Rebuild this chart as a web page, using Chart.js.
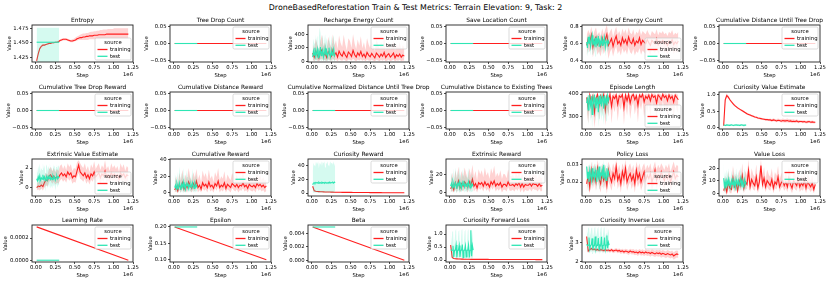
<!DOCTYPE html>
<html><head><meta charset="utf-8">
<script src="https://cdn.jsdelivr.net/npm/chart.js@4.4.0/dist/chart.umd.min.js"></script>
<style>
html,body{margin:0;padding:0;background:#fff;}
#fig{position:relative;width:831px;height:283px;overflow:hidden;background:#fff;}
#suptitle{position:absolute;left:0;width:831px;top:3px;text-align:center;font-family:"DejaVu Sans";font-size:7.9px;line-height:9px;color:#000;white-space:nowrap;}
canvas{position:absolute;}
</style></head><body>
<div id="fig"><div id="suptitle">DroneBasedReforestation Train &amp; Test Metrics: Terrain Elevation: 9, Task: 2</div></div>
<script>
// ---------------- DATA ----------------
const trainSteps = [10000,30000,50000,70000,90000,110000,130000,150000,170000,190000,
 210000,230000,250000,270000,290000,310000,330000,350000,370000,390000,
 410000,430000,450000,470000,490000,510000,530000,550000,570000,590000,
 610000,630000,650000,670000,690000,710000,730000,750000,770000,790000,
 810000,830000,850000,870000,890000,910000,930000,950000,970000,990000,
 1010000,1030000,1050000,1070000,1090000,1110000,1130000,1150000,1170000,1190000];
const testSteps = [10000,20000,30000,40000,50000,60000,70000,80000,90000,100000,
 110000,120000,130000,140000,150000,160000,170000,180000,190000,200000,
 210000,220000,230000,240000,250000,260000,270000,280000,290000,300000];
const trainEnds = [10000, 1190000];
const testEnds = [10000, 300000];

const stepTicks = [0, 250000, 500000, 750000, 1000000, 1250000];
const stepTickLabels = ['0.00','0.25','0.50','0.75','1.00','1.25'];

const zeroTrain = [0, 0];
const zeroTest = [0, 0];
const zeroTicks = [-0.05, 0, 0.05];
const zeroTickLabels = ['\u22120.05','0.00','0.05'];

// Entropy
const entropyTicks = [1.425, 1.45, 1.475];
const entropyTickLabels = ['1.425','1.450','1.475'];
const entropyTrain = [1.419,1.431,1.440,1.444,1.446,1.446,1.447,1.448,1.449,1.449,
 1.450,1.450,1.451,1.451,1.452,1.454,1.455,1.456,1.456,1.456,
 1.455,1.454,1.453,1.453,1.454,1.455,1.457,1.458,1.459,1.459,
 1.460,1.460,1.461,1.461,1.462,1.462,1.462,1.463,1.463,1.463,
 1.464,1.464,1.464,1.464,1.464,1.465,1.465,1.465,1.465,1.465,
 1.465,1.465,1.465,1.465,1.465,1.465,1.465,1.465,1.465,1.465];
const entropyTrainLo = [1.418,1.429,1.438,1.442,1.444,1.445,1.446,1.447,1.448,1.448,
 1.449,1.449,1.450,1.450,1.451,1.452,1.453,1.454,1.454,1.454,
 1.453,1.452,1.451,1.451,1.452,1.453,1.454,1.455,1.455,1.455,
 1.455,1.455,1.455,1.455,1.456,1.456,1.456,1.456,1.456,1.456,
 1.456,1.456,1.457,1.457,1.457,1.457,1.457,1.457,1.457,1.457,
 1.457,1.457,1.457,1.457,1.457,1.457,1.457,1.457,1.457,1.457];
const entropyTrainHi = [1.420,1.433,1.442,1.446,1.448,1.447,1.448,1.449,1.450,1.450,
 1.451,1.451,1.452,1.452,1.453,1.456,1.457,1.458,1.458,1.458,
 1.457,1.456,1.455,1.456,1.457,1.459,1.461,1.462,1.464,1.465,
 1.466,1.466,1.467,1.467,1.468,1.469,1.469,1.470,1.470,1.471,
 1.471,1.472,1.472,1.473,1.473,1.473,1.474,1.474,1.474,1.474,
 1.475,1.475,1.475,1.475,1.475,1.475,1.475,1.475,1.475,1.475];
const entropyTest = [1.451, 1.451];
const entropyTestLo = [1.41, 1.41];
const entropyTestHi = [1.476, 1.476];

// Recharge Energy Count
const rechargeTicks = [0, 200, 400];
const rechargeTickLabels = ['0','200','400'];
const rechargeTrain = [120,60,150,90,45,130,170,80,115,55, 140,95,70,165,85,125,60,150,100,75,
 140,90,55,135,110,70,160,95,60,125, 85,145,70,105,55,130,90,65,115,80,
 50,120,95,60,105,75,130,55,90,110, 60,85,120,50,95,70,105,60,90,75];
const rechargeTrainHi = [260,180,330,250,150,300,390,220,280,170, 360,260,200,400,230,310,180,380,270,210,
 390,250,160,340,300,200,400,260,180,320, 230,370,190,280,160,340,250,190,300,220,
 150,320,260,180,280,210,350,160,250,290, 170,230,310,150,260,200,280,170,240,200];
const rechargeTrainLo = [20,0,30,10,0,25,40,5,20,0, 30,15,5,40,10,25,0,30,15,5,
 30,10,0,25,20,5,35,15,0,25, 10,30,5,20,0,25,10,5,20,10,
 0,20,15,0,20,5,25,0,10,20, 0,10,25,0,15,5,20,0,10,5];
const rechargeTest = [60,150,90,200,70,120,180,50,140,100, 210,80,130,170,60,110,190,90,150,70,
 120,200,100,60,160,90,130,180,80,110];
const rechargeTestHi = [200,330,260,400,250,320,380,200,350,500, 420,250,330,390,200,300,400,260,350,220,
 310,400,280,200,380,260,330,390,240,300];
const rechargeTestLo = [0,20,0,40,0,10,30,0,20,5, 40,0,15,30,0,10,35,0,20,0,
 10,40,5,0,30,0,15,30,0,10];

// Out of Energy Count
const energyTicks = [0.4, 0.6, 0.8];
const energyTickLabels = ['0.4','0.6','0.8'];
const energyTrain = [0.58,0.66,0.61,0.70,0.56,0.64,0.68,0.59,0.63,0.57, 0.67,0.60,0.65,0.71,0.58,0.62,0.66,0.57,0.64,0.69,
 0.60,0.63,0.58,0.67,0.61,0.65,0.59,0.68,0.62,0.60, 0.66,0.58,0.63,0.61,0.67,0.59,0.64,0.62,0.60,0.65,
 0.61,0.58,0.64,0.62,0.60,0.66,0.59,0.63,0.61,0.64, 0.60,0.62,0.58,0.63,0.61,0.65,0.59,0.62,0.60,0.63];
const energyTrainHi = [0.70,0.76,0.72,0.80,0.68,0.75,0.79,0.70,0.74,0.69, 0.78,0.71,0.77,0.82,0.70,0.74,0.78,0.68,0.75,0.80,
 0.71,0.75,0.69,0.78,0.72,0.77,0.70,0.79,0.73,0.71, 0.77,0.69,0.74,0.72,0.78,0.70,0.75,0.73,0.71,0.76,
 0.72,0.69,0.75,0.73,0.71,0.77,0.70,0.74,0.72,0.75, 0.71,0.73,0.69,0.74,0.72,0.76,0.70,0.73,0.71,0.74];
const energyTrainLo = [0.46,0.55,0.50,0.58,0.44,0.52,0.56,0.47,0.51,0.45, 0.55,0.48,0.53,0.58,0.42,0.50,0.54,0.45,0.52,0.57,
 0.48,0.52,0.46,0.55,0.49,0.53,0.47,0.56,0.50,0.48, 0.54,0.46,0.51,0.49,0.55,0.47,0.52,0.50,0.48,0.53,
 0.50,0.47,0.53,0.51,0.49,0.55,0.48,0.52,0.50,0.53, 0.49,0.51,0.47,0.52,0.50,0.54,0.48,0.51,0.49,0.52];
const energyTest = [0.62,0.55,0.68,0.60,0.66,0.57,0.64,0.70,0.58,0.63, 0.59,0.67,0.56,0.65,0.61,0.69,0.57,0.63,0.60,0.66,
 0.58,0.64,0.61,0.67,0.56,0.62,0.65,0.59,0.63,0.60];
const energyTestHi = [0.70,0.64,0.73,0.68,0.72,0.66,0.71,0.73,0.67,0.70, 0.68,0.73,0.65,0.72,0.69,0.73,0.66,0.70,0.68,0.72,
 0.67,0.71,0.69,0.73,0.65,0.70,0.72,0.67,0.70,0.68];
const energyTestLo = [0.52,0.45,0.60,0.50,0.57,0.46,0.55,0.62,0.47,0.54, 0.48,0.58,0.45,0.56,0.51,0.60,0.46,0.54,0.50,0.57,
 0.47,0.55,0.52,0.58,0.45,0.53,0.56,0.49,0.54,0.50];

// Episode Length
const episodeTicks = [300, 400];
const episodeTickLabels = ['300','400'];
const episodeTrain = [385,340,395,360,390,320,380,398,350,392, 375,398,330,388,365,399,345,390,380,396,
 355,392,385,398,340,395,370,399,360,390, 398,375,392,350,396,385,399,365,390,380,
 395,370,398,385,392,360,396,388,375,399, 385,392,370,396,380,390,365,395,385,375];
const episodeTrainHi = [399,380,403,390,402,370,398,404,385,403, 395,404,375,401,392,404,385,402,398,404,
 390,403,400,404,380,403,395,404,392,402, 404,396,403,385,404,400,404,395,402,398,
 403,395,404,400,403,392,404,401,396,404, 400,403,395,404,398,402,392,403,400,396];
const episodeTrainLo = [330,270,360,290,340,250,320,370,280,350, 310,365,260,340,300,370,270,345,320,360,
 280,350,330,370,265,355,305,372,290,345, 365,310,350,275,360,330,372,295,345,320,
 355,300,368,330,350,285,362,340,310,370, 330,350,300,362,320,345,290,358,330,315];
const episodeTest = [360,385,330,395,370,350,390,310,380,365, 398,340,385,360,375,320,392,355,380,345,
 390,370,335,395,360,380,350,392,370,385];
const episodeTestHi = [380,400,360,404,390,375,402,345,398,385, 404,370,400,385,395,355,404,380,398,372,
 403,392,365,404,385,398,378,404,392,400];
const episodeTestLo = [300,330,260,350,310,280,340,250,320,300, 350,270,330,300,315,255,345,290,325,280,
 335,305,265,345,295,325,280,340,310,330];

// Curiosity Value Estimate
const curValTicks = [0, 0.5, 1.0];
const curValTickLabels = ['0.0','0.5','1.0'];
const curValTrain = [0.05,0.85,0.98,0.93,0.85,0.79,0.73,0.68,0.64,0.60, 0.57,0.54,0.51,0.48,0.45,0.42,0.40,0.38,0.36,0.34,
 0.32,0.31,0.29,0.28,0.27,0.26,0.25,0.24,0.24,0.23, 0.23,0.21,0.23,0.22,0.20,0.22,0.21,0.19,0.21,0.20,
 0.20,0.21,0.19,0.20,0.18,0.19,0.18,0.20,0.17,0.18, 0.18,0.17,0.18,0.16,0.17,0.18,0.16,0.17,0.16,0.16];
const curValTrainHi = [0.08,0.92,1.04,0.98,0.89,0.83,0.77,0.71,0.67,0.63, 0.60,0.57,0.54,0.51,0.48,0.45,0.43,0.41,0.39,0.37,
 0.35,0.34,0.32,0.31,0.30,0.29,0.28,0.27,0.27,0.26, 0.27,0.25,0.28,0.26,0.25,0.27,0.26,0.25,0.27,0.26,
 0.26,0.27,0.25,0.26,0.24,0.25,0.23,0.25,0.22,0.23, 0.22,0.21,0.22,0.20,0.21,0.22,0.20,0.21,0.20,0.19];
const curValTrainLo = [0.03,0.78,0.93,0.88,0.81,0.75,0.70,0.65,0.61,0.57, 0.54,0.51,0.48,0.45,0.42,0.39,0.37,0.35,0.33,0.31,
 0.29,0.28,0.26,0.25,0.24,0.23,0.22,0.21,0.21,0.20, 0.19,0.18,0.19,0.18,0.16,0.18,0.17,0.15,0.16,0.15,
 0.15,0.16,0.14,0.15,0.13,0.14,0.13,0.15,0.13,0.14, 0.14,0.13,0.14,0.12,0.13,0.14,0.12,0.13,0.12,0.12];
const curValTest = [0.07,0.07,0.06,0.07,0.08,0.07,0.07,0.06,0.07,0.07, 0.08,0.07,0.07,0.06,0.07,0.07,0.08,0.07,0.07,0.07,
 0.06,0.07,0.07,0.08,0.07,0.07,0.06,0.07,0.07,0.07];
const curValTestHi = [0.10,0.10,0.09,0.10,0.11,0.10,0.10,0.09,0.10,0.10, 0.11,0.10,0.10,0.09,0.10,0.10,0.11,0.10,0.10,0.10,
 0.09,0.10,0.10,0.11,0.10,0.10,0.09,0.10,0.10,0.10];
const curValTestLo = [0.04,0.04,0.03,0.04,0.05,0.04,0.04,0.03,0.04,0.04, 0.05,0.04,0.04,0.03,0.04,0.04,0.05,0.04,0.04,0.04,
 0.03,0.04,0.04,0.05,0.04,0.04,0.03,0.04,0.04,0.04];

// Extrinsic Value Estimate
const extValTicks = [0, 2];
const extValTickLabels = ['0','2'];
const extValTrain = [0.0,0.15,0.1,0.25,0.1,0.5,0.8,0.7,1.2,1.3, 1.0,1.2,0.95,1.1,1.0,1.3,1.5,1.2,1.4,1.1,
 1.6,1.3,1.5,1.0,1.2,1.1,1.7,2.3,1.6,1.4, 1.2,1.5,1.0,1.3,0.9,1.4,1.2,1.6,1.1,1.3,
 1.5,1.0,1.4,1.2,1.7,1.1,1.3,1.0,1.5,1.2, 1.4,1.1,1.3,0.9,1.5,1.2,1.4,1.0,1.3,1.2];
const extValTrainHi = [0.4,0.6,0.5,0.8,0.6,1.2,1.5,1.3,1.9,2.1, 1.7,2.0,1.6,1.9,1.7,2.2,2.4,1.9,2.3,1.8,
 2.5,2.1,2.4,1.7,2.0,1.9,2.6,2.8,2.5,2.2, 2.0,2.5,1.8,2.2,1.6,2.4,2.0,2.7,1.9,2.2,
 2.5,1.8,2.3,2.0,2.8,1.9,2.2,1.7,2.5,2.0, 2.3,1.9,2.2,1.6,2.5,2.0,2.4,1.7,2.2,2.0];
const extValTrainLo = [-0.3,-0.2,-0.3,-0.1,-0.3,0.0,0.2,0.1,0.6,0.7, 0.4,0.6,0.3,0.5,0.4,0.7,0.9,0.6,0.8,0.5,
 1.0,0.7,0.9,0.4,0.6,0.5,1.1,1.5,0.9,0.8, 0.6,0.9,0.4,0.7,0.3,0.8,0.6,1.0,0.5,0.7,
 0.9,0.4,0.8,0.6,1.1,0.5,0.7,0.4,0.9,0.6, 0.8,0.5,0.7,0.3,0.9,0.6,0.8,0.4,0.7,0.6];
const extValTest = [0.9,0.7,1.1,0.8,1.2,0.75,1.0,0.85,1.3,0.9, 1.1,0.7,1.0,1.2,0.8,1.1,0.9,1.3,0.85,1.0,
 0.8,1.2,0.95,1.1,0.75,1.0,1.2,0.9,1.1,1.0];
const extValTestHi = [1.8,1.5,2.2,1.7,2.5,1.6,2.0,1.8,2.5,1.9, 2.3,1.5,2.1,2.4,1.7,2.2,1.9,2.5,1.8,2.1,
 1.7,2.4,2.0,2.3,1.6,2.1,2.4,1.9,2.3,2.1];
const extValTestLo = [0.1,-0.2,0.3,-0.1,0.4,-0.3,0.2,0.0,0.5,0.1, 0.3,-0.4,0.2,0.4,-0.1,0.3,0.0,0.5,-0.1,0.2,
 -0.1,0.4,0.1,0.3,-0.3,0.2,0.4,0.0,0.3,0.2];

// Cumulative Reward
const cumRewTicks = [0, 20, 40];
const cumRewTickLabels = ['0','20','40'];
const cumRewTrain = [3,7,2,10,5,12,4,9,6,13, 8,5,11,7,14,6,9,4,12,8,
 10,6,13,7,9,5,11,8,14,6, 9,7,12,5,10,8,6,11,9,7,
 10,6,9,8,12,7,9,5,10,8, 7,9,6,11,8,10,7,9,6,8];
const cumRewTrainHi = [12,20,9,24,15,28,13,22,16,30, 19,14,25,18,29,16,22,12,27,19,
 24,15,28,17,21,13,25,19,30,15, 20,17,26,13,22,18,15,24,20,16,
 22,14,20,18,25,16,20,12,22,18, 16,20,14,23,18,21,15,19,14,17];
const cumRewTrainLo = [0,1,0,3,0,5,0,2,0,6, 2,0,4,1,7,0,3,0,5,2,
 4,0,6,1,3,0,5,2,7,0, 3,1,5,0,4,2,0,5,3,1,
 4,0,3,2,5,1,3,0,4,2, 1,3,0,5,2,4,1,3,0,2];
const cumRewTest = [6,9,4,11,7,5,12,8,3,10, 7,13,6,9,4,11,8,12,5,9,
 7,10,6,12,8,5,11,7,9,6];
const cumRewTestHi = [24,20,15,26,18,14,32,20,12,25, 18,30,16,22,13,27,19,28,14,21,
 17,24,15,29,19,13,26,17,22,15];
const cumRewTestLo = [0,2,0,3,0,0,4,1,0,2, 0,5,0,2,0,3,1,4,0,2,
 0,3,0,4,1,0,3,0,2,0];

// Curiosity Reward
const curRewTicks = [0, 20, 40];
const curRewTickLabels = ['0','20','40'];
const curRewTrain = [10,3.5,2.8,2.4,2.2,2.0,1.9,1.8,1.7,1.6, 1.5,1.5,1.4,1.4,1.3,1.3,1.2,1.2,1.2,1.1,
 1.1,1.1,1.0,1.0,1.0,1.0,0.9,0.9,0.9,0.9, 0.9,0.8,0.8,0.8,0.8,0.8,0.8,0.7,0.7,0.7,
 0.7,0.7,0.7,0.7,0.7,0.6,0.6,0.6,0.6,0.6, 0.6,0.6,0.6,0.6,0.5,0.5,0.5,0.5,0.5,0.5];
const curRewTrainHi = [12,4.2,3.3,2.8,2.6,2.3,2.2,2.1,2.0,1.9, 1.8,1.8,1.7,1.7,1.6,1.6,1.5,1.5,1.5,1.4,
 1.4,1.4,1.3,1.3,1.3,1.3,1.2,1.2,1.2,1.2, 1.2,1.1,1.1,1.1,1.1,1.1,1.1,1.0,1.0,1.0,
 1.0,1.0,1.0,1.0,1.0,0.9,0.9,0.9,0.9,0.9, 0.9,0.9,0.9,0.9,0.8,0.8,0.8,0.8,0.8,0.8];
const curRewTrainLo = [8,2.8,2.3,2.0,1.8,1.7,1.6,1.5,1.4,1.3, 1.2,1.2,1.1,1.1,1.0,1.0,0.9,0.9,0.9,0.8,
 0.8,0.8,0.7,0.7,0.7,0.7,0.6,0.6,0.6,0.6, 0.6,0.5,0.5,0.5,0.5,0.5,0.5,0.4,0.4,0.4,
 0.4,0.4,0.4,0.4,0.4,0.3,0.3,0.3,0.3,0.3, 0.3,0.3,0.3,0.3,0.2,0.2,0.2,0.2,0.2,0.2];
const curRewTest = [12,14.5,15,14,15.5,14.8,15.2,14.3,15.8,14.6, 15.1,14.4,15.6,14.9,15.3,14.2,15.7,14.8,15.0,14.5,
 15.4,14.7,15.9,14.6,15.2,14.9,15.5,14.4,16.0,15.1];
const curRewTestHi = [30,44,40,46,38,45,42,46,36,44, 41,46,39,45,43,46,37,44,42,46,
 40,45,38,46,43,44,41,46,39,45];
const curRewTestLo = [0,1,0,2,0,1,0,2,0,1, 0,2,0,1,0,2,0,1,0,2,
 0,1,0,2,0,1,0,2,0,1];

// Extrinsic Reward
const extRewTicks = [0, 20];
const extRewTickLabels = ['0','20'];
const extRewTrain = [4,8,3,11,6,13,5,10,7,12, 9,6,12,8,15,7,10,5,11,9,
 11,7,12,8,10,6,12,9,13,7, 10,8,11,6,9,9,7,12,8,8,
 9,7,10,8,11,6,10,6,9,8, 8,10,7,10,9,9,7,10,7,8];
const extRewTrainHi = [13,22,10,25,16,29,14,24,17,28, 21,15,27,19,31,17,24,13,26,20,
 25,17,28,19,23,15,27,21,30,17, 22,18,25,15,21,20,16,26,19,18,
 20,16,22,18,24,15,22,14,20,18, 17,21,16,21,19,20,15,21,16,17];
const extRewTrainLo = [0,2,0,4,0,6,0,3,1,5, 3,0,5,2,8,1,4,0,5,3,
 5,1,6,2,4,0,6,3,7,1, 4,2,5,0,3,3,1,6,2,2,
 3,1,4,2,5,0,4,0,3,2, 2,4,1,4,3,3,1,4,1,2];
const extRewTest = [7,10,5,12,8,6,11,9,4,10, 8,12,6,9,5,11,8,13,6,9,
 7,11,6,12,8,5,10,7,9,7];
const extRewTestHi = [22,21,16,27,19,15,28,21,13,24, 19,29,16,22,14,26,19,29,15,21,
 17,25,15,28,19,13,24,17,21,16];
const extRewTestLo = [0,2,0,4,1,0,3,1,0,2, 1,4,0,2,0,3,1,5,0,2,
 0,3,0,4,1,0,2,0,2,0];

// Policy Loss
const polTicks = [0.02, 0.03];
const polTickLabels = ['0.02','0.03'];
const polTrain = [0.019,0.024,0.017,0.027,0.021,0.025,0.020,0.028,0.022,0.019, 0.026,0.021,0.024,0.018,0.027,0.023,0.020,0.025,0.022,0.029,
 0.021,0.024,0.019,0.026,0.022,0.028,0.020,0.023,0.025,0.021, 0.024,0.019,0.027,0.022,0.025,0.020,0.023,0.026,0.021,0.024,
 0.022,0.025,0.020,0.023,0.027,0.021,0.024,0.022,0.026,0.023, 0.021,0.024,0.022,0.025,0.020,0.023,0.026,0.022,0.024,0.023];
const polTrainHi = [0.025,0.030,0.023,0.032,0.027,0.031,0.026,0.033,0.028,0.025, 0.031,0.027,0.030,0.024,0.032,0.029,0.026,0.031,0.028,0.033,
 0.027,0.030,0.025,0.031,0.028,0.033,0.026,0.029,0.031,0.027, 0.030,0.025,0.032,0.028,0.031,0.026,0.029,0.031,0.027,0.030,
 0.028,0.031,0.026,0.029,0.032,0.027,0.030,0.028,0.031,0.029, 0.027,0.030,0.028,0.031,0.026,0.029,0.032,0.028,0.030,0.029];
const polTrainLo = [0.014,0.019,0.013,0.022,0.016,0.020,0.015,0.022,0.017,0.014, 0.021,0.016,0.019,0.013,0.021,0.018,0.015,0.020,0.017,0.023,
 0.016,0.019,0.014,0.021,0.017,0.022,0.015,0.018,0.020,0.016, 0.019,0.014,0.021,0.017,0.020,0.015,0.018,0.021,0.016,0.019,
 0.017,0.020,0.015,0.018,0.021,0.016,0.019,0.017,0.021,0.018, 0.016,0.019,0.017,0.020,0.015,0.018,0.021,0.017,0.019,0.018];
const polTest = [0.029,0.022,0.026,0.020,0.027,0.024,0.021,0.028,0.023,0.025, 0.022,0.027,0.024,0.020,0.026,0.023,0.029,0.021,0.025,0.024,
 0.027,0.022,0.030,0.023,0.025,0.021,0.028,0.024,0.026,0.023];
const polTestHi = [0.032,0.027,0.030,0.025,0.031,0.029,0.026,0.032,0.028,0.030, 0.027,0.031,0.029,0.025,0.030,0.028,0.032,0.026,0.030,0.029,
 0.031,0.027,0.033,0.028,0.030,0.026,0.032,0.029,0.030,0.028];
const polTestLo = [0.024,0.017,0.021,0.015,0.022,0.019,0.016,0.023,0.018,0.020, 0.017,0.022,0.019,0.015,0.021,0.018,0.024,0.016,0.020,0.019,
 0.022,0.017,0.025,0.018,0.020,0.016,0.023,0.019,0.021,0.018];

// Value Loss
const vlossTicks = [0, 10, 20];
const vlossTickLabels = ['0','10','20'];
const vlossTrain = [2,6,1,9,4,3,12,5,8,2, 10,6,14,4,9,7,18,5,11,8,
 6,13,4,9,22,7,12,5,10,8, 6,11,4,9,7,13,5,8,10,6,
 9,5,12,7,4,10,8,6,11,5, 8,6,10,4,9,7,5,8,3,7];
const vlossTrainHi = [8,14,6,18,10,9,22,12,16,8, 19,13,24,10,18,14,27,11,20,15,
 13,23,10,17,27,14,21,11,19,15, 13,20,9,17,14,22,11,15,18,12,
 17,11,21,14,9,18,15,12,19,10, 15,12,18,9,16,13,10,15,7,13];
const vlossTrainLo = [0,2,0,4,0,0,6,1,3,0, 5,2,8,0,4,3,11,1,6,3,
 2,7,0,4,14,3,6,1,5,3, 2,6,0,4,3,7,1,4,5,2,
 4,1,6,3,0,5,3,2,6,1, 3,2,5,0,4,3,1,3,0,3];
const vlossTest = [12,5,9,4,10,7,11,6,8,5, 10,7,12,6,9,5,11,8,7,10,
 6,9,12,7,10,5,8,11,7,9];
const vlossTestHi = [24,12,17,10,19,14,20,13,16,11, 18,14,21,13,17,11,20,15,14,18,
 13,17,21,14,18,11,16,20,14,17];
const vlossTestLo = [3,1,3,0,4,2,4,1,2,1, 4,2,5,1,3,1,4,2,2,4,
 1,3,5,2,4,1,2,4,2,3];

// Learning Rate / Epsilon / Beta
const lrTicks = [0, 0.0002];
const lrTickLabels = ['0.0000','0.0002'];
const lrTrain = [0.0003, 0.0];
const lrTest = [0.0, 0.0];
const epsTicks = [0.10, 0.15, 0.20];
const epsTickLabels = ['0.10','0.15','0.20'];
const epsTrain = [0.2, 0.1];
const epsTest = [0.2, 0.2];
const betaTicks = [0, 0.002, 0.004];
const betaTickLabels = ['0.000','0.002','0.004'];
const betaTrain = [0.005, 0.0];
const betaTest = [0.005, 0.005];

// Curiosity Forward Loss
const fwdTicks = [0, 0.5, 1.0];
const fwdTickLabels = ['0.0','0.5','1.0'];
const fwdTrain = [0.58,0.10,0.06,0.05,0.045,0.04,0.04,0.035,0.035,0.03, 0.03,0.03,0.03,0.028,0.028,0.028,0.027,0.027,0.026,0.026,
 0.026,0.025,0.025,0.025,0.025,0.024,0.024,0.024,0.024,0.023, 0.023,0.023,0.023,0.022,0.022,0.022,0.022,0.022,0.021,0.021,
 0.021,0.021,0.021,0.020,0.020,0.020,0.020,0.020,0.020,0.019, 0.019,0.019,0.019,0.019,0.019,0.018,0.018,0.018,0.018,0.018];
const fwdTrainHi = [0.68,0.14,0.08,0.07,0.06,0.055,0.055,0.05,0.05,0.045, 0.045,0.045,0.045,0.042,0.042,0.042,0.04,0.04,0.04,0.04,
 0.04,0.038,0.038,0.038,0.038,0.037,0.037,0.037,0.037,0.036, 0.036,0.036,0.036,0.035,0.035,0.035,0.035,0.035,0.034,0.034,
 0.034,0.034,0.034,0.033,0.033,0.033,0.033,0.033,0.033,0.032, 0.032,0.032,0.032,0.032,0.032,0.031,0.031,0.031,0.031,0.031];
const fwdTrainLo = [0.48,0.07,0.045,0.035,0.03,0.028,0.028,0.024,0.024,0.02, 0.02,0.02,0.02,0.018,0.018,0.018,0.017,0.017,0.016,0.016,
 0.016,0.015,0.015,0.015,0.015,0.014,0.014,0.014,0.014,0.013, 0.013,0.013,0.013,0.012,0.012,0.012,0.012,0.012,0.011,0.011,
 0.011,0.011,0.011,0.010,0.010,0.010,0.010,0.010,0.010,0.009, 0.009,0.009,0.009,0.009,0.009,0.008,0.008,0.008,0.008,0.008];
const fwdTest = [0.40,0.38,0.38,0.55,0.12,0.38,0.38,0.58,0.10,0.38, 0.38,0.56,0.12,0.38,0.38,0.60,0.10,0.38,0.38,0.55,
 0.12,0.38,0.38,0.58,0.10,0.38,1.15,0.15,0.55,0.38];
const fwdTestHi = [1.15,0.60,1.10,1.18,0.40,0.65,1.12,1.20,0.35,0.62, 1.10,1.15,0.40,0.60,1.15,1.20,0.35,0.65,1.10,1.18,
 0.40,0.62,1.12,1.20,0.35,0.60,1.22,0.50,1.15,0.65];
const fwdTestLo = [0.05,0.15,0.10,0.05,0.02,0.15,0.10,0.05,0.02,0.15, 0.10,0.05,0.02,0.15,0.10,0.05,0.02,0.15,0.10,0.05,
 0.02,0.15,0.10,0.05,0.02,0.15,0.10,0.02,0.05,0.15];

// Curiosity Inverse Loss
const invTicks = [2, 3];
const invTickLabels = ['2','3'];
const invTrain = [3.3,2.55,2.62,2.68,2.62,2.65,2.60,2.63,2.58,2.62, 2.60,2.57,2.62,2.58,2.60,2.56,2.62,2.55,2.58,2.60,
 2.55,2.58,2.52,2.56,2.50,2.55,2.52,2.48,2.55,2.50, 2.52,2.47,2.50,2.45,2.52,2.46,2.49,2.44,2.50,2.45,
 2.47,2.42,2.48,2.44,2.40,2.46,2.42,2.45,2.38,2.43, 2.40,2.36,2.42,2.38,2.35,2.40,2.30,2.36,2.40,2.37];
const invTrainHi = [3.4,2.65,2.70,2.75,2.70,2.72,2.68,2.70,2.66,2.70, 2.68,2.65,2.70,2.66,2.68,2.65,2.70,2.64,2.67,2.70,
 2.65,2.68,2.63,2.67,2.62,2.67,2.64,2.60,2.67,2.63, 2.65,2.60,2.64,2.59,2.66,2.60,2.64,2.58,2.65,2.60,
 2.62,2.57,2.64,2.60,2.56,2.62,2.58,2.62,2.55,2.60, 2.57,2.53,2.60,2.56,2.53,2.58,2.48,2.55,2.58,2.55];
const invTrainLo = [3.1,2.45,2.54,2.60,2.54,2.57,2.52,2.55,2.50,2.54, 2.52,2.48,2.53,2.49,2.51,2.46,2.52,2.44,2.48,2.50,
 2.44,2.47,2.40,2.45,2.38,2.43,2.40,2.35,2.42,2.37, 2.39,2.33,2.36,2.30,2.38,2.31,2.34,2.29,2.35,2.30,
 2.32,2.26,2.32,2.28,2.24,2.30,2.26,2.28,2.20,2.26, 2.23,2.18,2.24,2.20,2.16,2.22,2.10,2.16,2.22,2.19];
const invTest = [2.90,2.82,2.85,3.25,2.65,2.84,2.86,3.20,2.62,2.85, 2.83,3.30,2.68,2.86,2.84,3.22,2.60,2.85,2.82,3.28,
 2.66,2.84,2.85,3.25,2.64,2.86,3.35,2.70,3.00,2.85];
const invTestHi = [3.70,3.40,3.75,3.80,3.30,3.45,3.72,3.78,3.25,3.42, 3.74,3.80,3.30,3.45,3.70,3.80,3.28,3.44,3.72,3.80,
 3.30,3.42,3.75,3.78,3.25,3.45,3.80,3.35,3.70,3.40];
const invTestLo = [2.50,2.55,2.45,2.60,2.42,2.55,2.48,2.58,2.40,2.55, 2.46,2.62,2.42,2.56,2.47,2.60,2.40,2.55,2.45,2.62,
 2.42,2.55,2.46,2.60,2.40,2.56,2.65,2.45,2.50,2.55];

// ---------------- PANELS ----------------
const panels = [
 {t:'Entropy', r:0, c:0, y:[1.4169,1.4807], yt:entropyTicks, yl:entropyTickLabels, leg:'lr',
  tr:[trainSteps, entropyTrain, entropyTrainLo, entropyTrainHi], te:[testEnds, entropyTest, entropyTestLo, entropyTestHi]},
 {t:'Tree Drop Count', r:0, c:1, y:[-0.055,0.055], yt:zeroTicks, yl:zeroTickLabels, leg:'ur', tr:[trainEnds, zeroTrain], te:[testEnds, zeroTest]},
 {t:'Recharge Energy Count', r:0, c:2, y:[-12,535], yt:rechargeTicks, yl:rechargeTickLabels, leg:'ur',
  tr:[trainSteps, rechargeTrain, rechargeTrainLo, rechargeTrainHi], te:[testSteps, rechargeTest, rechargeTestLo, rechargeTestHi]},
 {t:'Save Location Count', r:0, c:3, y:[-0.055,0.055], yt:zeroTicks, yl:zeroTickLabels, leg:'ur', tr:[trainEnds, zeroTrain], te:[testEnds, zeroTest]},
 {t:'Out of Energy Count', r:0, c:4, y:[0.385,0.82], yt:energyTicks, yl:energyTickLabels, leg:'lr',
  tr:[trainSteps, energyTrain, energyTrainLo, energyTrainHi], te:[testSteps, energyTest, energyTestLo, energyTestHi]},
 {t:'Cumulative Distance Until Tree Drop', r:0, c:5, y:[-0.055,0.055], yt:zeroTicks, yl:zeroTickLabels, leg:'ur', tr:[trainEnds, zeroTrain], te:[testEnds, zeroTest]},

 {t:'Cumulative Tree Drop Reward', r:1, c:0, y:[-0.055,0.055], yt:zeroTicks, yl:zeroTickLabels, leg:'ur', tr:[trainEnds, zeroTrain], te:[testEnds, zeroTest]},
 {t:'Cumulative Distance Reward', r:1, c:1, y:[-0.055,0.055], yt:zeroTicks, yl:zeroTickLabels, leg:'ur', tr:[trainEnds, zeroTrain], te:[testEnds, zeroTest]},
 {t:'Cumulative Normalized Distance Until Tree Drop', r:1, c:2, y:[-0.055,0.055], yt:zeroTicks, yl:zeroTickLabels, leg:'ur', tr:[trainEnds, zeroTrain], te:[testEnds, zeroTest]},
 {t:'Cumulative Distance to Existing Trees', r:1, c:3, y:[-0.055,0.055], yt:zeroTicks, yl:zeroTickLabels, leg:'ur', tr:[trainEnds, zeroTrain], te:[testEnds, zeroTest]},
 {t:'Episode Length', r:1, c:4, y:[246,409], yt:episodeTicks, yl:episodeTickLabels, leg:'lr',
  tr:[trainSteps, episodeTrain, episodeTrainLo, episodeTrainHi], te:[testSteps, episodeTest, episodeTestLo, episodeTestHi]},
 {t:'Curiosity Value Estimate', r:1, c:5, y:[-0.05,1.09], yt:curValTicks, yl:curValTickLabels, leg:'ur',
  tr:[trainSteps, curValTrain, curValTrainLo, curValTrainHi], te:[testSteps, curValTest, curValTestLo, curValTestHi]},

 {t:'Extrinsic Value Estimate', r:2, c:0, y:[-0.87,2.93], yt:extValTicks, yl:extValTickLabels, leg:'lr',
  tr:[trainSteps, extValTrain, extValTrainLo, extValTrainHi], te:[testSteps, extValTest, extValTestLo, extValTestHi]},
 {t:'Cumulative Reward', r:2, c:1, y:[-4.4,41.2], yt:cumRewTicks, yl:cumRewTickLabels, leg:'ur',
  tr:[trainSteps, cumRewTrain, cumRewTrainLo, cumRewTrainHi], te:[testSteps, cumRewTest, cumRewTestLo, cumRewTestHi]},
 {t:'Curiosity Reward', r:2, c:2, y:[-4.2,49.4], yt:curRewTicks, yl:curRewTickLabels, leg:'ur',
  tr:[trainSteps, curRewTrain, curRewTrainLo, curRewTrainHi], te:[testSteps, curRewTest, curRewTestLo, curRewTestHi]},
 {t:'Extrinsic Reward', r:2, c:3, y:[-4,37.5], yt:extRewTicks, yl:extRewTickLabels, leg:'ur',
  tr:[trainSteps, extRewTrain, extRewTrainLo, extRewTrainHi], te:[testSteps, extRewTest, extRewTestLo, extRewTestHi]},
 {t:'Policy Loss', r:2, c:4, y:[0.0119,0.0334], yt:polTicks, yl:polTickLabels, leg:'lr',
  tr:[trainSteps, polTrain, polTrainLo, polTrainHi], te:[testSteps, polTest, polTestLo, polTestHi]},
 {t:'Value Loss', r:2, c:5, y:[-2.3,27.3], yt:vlossTicks, yl:vlossTickLabels, leg:'ur',
  tr:[trainSteps, vlossTrain, vlossTrainLo, vlossTrainHi], te:[testSteps, vlossTest, vlossTestLo, vlossTestHi]},

 {t:'Learning Rate', r:3, c:0, y:[-0.000016,0.000317], yt:lrTicks, yl:lrTickLabels, leg:'ur', tr:[trainEnds, lrTrain], te:[testEnds, lrTest]},
 {t:'Epsilon', r:3, c:1, y:[0.093,0.206], yt:epsTicks, yl:epsTickLabels, leg:'ur', tr:[trainEnds, epsTrain], te:[testEnds, epsTest]},
 {t:'Beta', r:3, c:2, y:[-0.00028,0.0053], yt:betaTicks, yl:betaTickLabels, leg:'ur', tr:[trainEnds, betaTrain], te:[testEnds, betaTest]},
 {t:'Curiosity Forward Loss', r:3, c:3, y:[-0.075,1.35], yt:fwdTicks, yl:fwdTickLabels, leg:'ur',
  tr:[trainSteps, fwdTrain, fwdTrainLo, fwdTrainHi], te:[testSteps, fwdTest, fwdTestLo, fwdTestHi]},
 {t:'Curiosity Inverse Loss', r:3, c:4, y:[1.985,3.89], yt:invTicks, yl:invTickLabels, leg:'ur',
  tr:[trainSteps, invTrain, invTrainLo, invTrainHi], te:[testSteps, invTest, invTestLo, invTestHi]}
];

// ---------------- LAYOUT / STYLE ----------------
const COL_LEFT = [32, 170, 308, 446, 582, 719];
const ROW_TOP = [25, 92, 159, 225];
const PW = 101, PH = 37;
const PADL = 44, PADT = 14, PADR = 34, PADB = 22;
const FONT = '"DejaVu Sans"';
const TICK_PX = 5.3, TITLE_PX = 5.9;
const TRAIN_C = '#ff1f1f', TEST_C = '#2ee6b4';
const TRAIN_F = 'rgba(255,31,31,0.2)', TEST_F = 'rgba(46,230,180,0.2)';
const XMIN = -50000, XMAX = 1250000;

function pts(xs, ys) { return ys.map((y, i) => ({x: xs[i], y: y})); }

const decor = {
  id: 'decor',
  afterDraw(chart, args, o) {
    const ctx = chart.ctx, a = chart.chartArea;
    ctx.save();
    ctx.strokeStyle = '#222'; ctx.lineWidth = 0.9;
    ctx.strokeRect(a.left, a.top, a.right - a.left, a.bottom - a.top);
    ctx.fillStyle = '#000';
    ctx.font = TITLE_PX + 'px ' + FONT;
    ctx.textAlign = 'center'; ctx.textBaseline = 'middle';
    ctx.fillText(o.title, (a.left + a.right) / 2, a.top - 4.5);
    ctx.font = TICK_PX + 'px ' + FONT;
    ctx.fillText('Step', (a.left + a.right) / 2, a.bottom + 13.5);
    ctx.textAlign = 'right';
    ctx.fillText('1e6', a.right, a.bottom + 13);
    let mw = 0;
    o.ylabels.forEach(s => { mw = Math.max(mw, ctx.measureText(s).width); });
    ctx.save();
    ctx.translate(a.left - 4 - mw - 3.5, (a.top + a.bottom) / 2);
    ctx.rotate(-Math.PI / 2);
    ctx.textAlign = 'center';
    ctx.fillText('Value', 0, 0);
    ctx.restore();
    const w = 36, h = 22;
    const lx = a.right - 2 - w;
    const ly = o.leg === 'ur' ? a.top + 2 : a.bottom - 2 - h;
    ctx.fillStyle = 'rgba(255,255,255,0.8)';
    ctx.strokeStyle = '#cccccc'; ctx.lineWidth = 0.7;
    ctx.beginPath();
    if (ctx.roundRect) ctx.roundRect(lx, ly, w, h, 1.5); else ctx.rect(lx, ly, w, h);
    ctx.fill(); ctx.stroke();
    ctx.fillStyle = '#000';
    ctx.textAlign = 'center';
    ctx.fillText('source', lx + w / 2, ly + 4.5);
    ctx.textAlign = 'left';
    [[TRAIN_C, 'training', 11.5], [TEST_C, 'test', 18.3]].forEach(([col, lab, dy]) => {
      ctx.strokeStyle = col; ctx.lineWidth = 1.3;
      ctx.beginPath(); ctx.moveTo(lx + 2.5, ly + dy); ctx.lineTo(lx + 12.5, ly + dy); ctx.stroke();
      ctx.fillText(lab, lx + 15, ly + dy);
    });
    ctx.restore();
  }
};

const fig = document.getElementById('fig');
panels.forEach(p => {
  const cv = document.createElement('canvas');
  const W = PADL + PW + PADR, H = PADT + PH + PADB;
  cv.width = W; cv.height = H;
  cv.style.left = (COL_LEFT[p.c] - PADL) + 'px';
  cv.style.top = (ROW_TOP[p.r] - PADT) + 'px';
  cv.style.width = W + 'px'; cv.style.height = H + 'px';
  fig.appendChild(cv);

  const ds = [];
  if (p.tr.length > 2) {
    ds.push({data: pts(p.tr[0], p.tr[2]), borderColor: 'rgba(0,0,0,0)', borderWidth: 0, pointRadius: 0, fill: false, order: 3});
    ds.push({data: pts(p.tr[0], p.tr[3]), borderColor: 'rgba(0,0,0,0)', borderWidth: 0, pointRadius: 0, fill: '-1', backgroundColor: TRAIN_F, order: 3});
  }
  ds.push({data: pts(p.tr[0], p.tr[1]), borderColor: TRAIN_C, borderWidth: 1.1, pointRadius: 0, fill: false, order: 2});
  if (p.te.length > 2) {
    ds.push({data: pts(p.te[0], p.te[2]), borderColor: 'rgba(0,0,0,0)', borderWidth: 0, pointRadius: 0, fill: false, order: 1});
    ds.push({data: pts(p.te[0], p.te[3]), borderColor: 'rgba(0,0,0,0)', borderWidth: 0, pointRadius: 0, fill: '-1', backgroundColor: TEST_F, order: 1});
  }
  ds.push({data: pts(p.te[0], p.te[1]), borderColor: TEST_C, borderWidth: 1.1, pointRadius: 0, fill: false, order: 0});

  const tickFont = {family: FONT, size: TICK_PX};
  new Chart(cv, {
    type: 'line',
    data: {datasets: ds},
    options: {
      responsive: false, animation: false, devicePixelRatio: 1,
      layout: {padding: {left: PADL - 34, top: PADT, right: PADR, bottom: 0}},
      plugins: {legend: {display: false}, tooltip: {enabled: false}, title: {display: false},
        decor: {title: p.t, ylabels: p.yl, leg: p.leg}},
      elements: {line: {tension: 0}},
      scales: {
        x: {type: 'linear', min: XMIN, max: XMAX,
          afterBuildTicks: s => { s.ticks = stepTicks.map(v => ({value: v})); },
          afterFit: s => { s.height = PADB; s.paddingLeft = 0; s.paddingRight = 0; },
          grid: {display: true, drawOnChartArea: false, drawTicks: true, tickLength: 2, color: '#222', lineWidth: 0.8},
          border: {display: false},
          ticks: {autoSkip: false, maxRotation: 0, minRotation: 0, padding: 0.5, color: '#000', font: tickFont,
            callback: (v, i) => stepTickLabels[i]}
        },
        y: {type: 'linear', min: p.y[0], max: p.y[1],
          afterBuildTicks: s => { s.ticks = p.yt.map(v => ({value: v})); },
          afterFit: s => { s.width = 34; s.paddingTop = 0; s.paddingBottom = 0; },
          grid: {display: true, drawOnChartArea: false, drawTicks: true, tickLength: 2, color: '#222', lineWidth: 0.8},
          border: {display: false},
          ticks: {autoSkip: false, padding: 1.5, color: '#000', font: tickFont,
            callback: (v, i) => p.yl[i]}
        }
      }
    },
    plugins: [decor]
  });
});
</script>
</body></html>
